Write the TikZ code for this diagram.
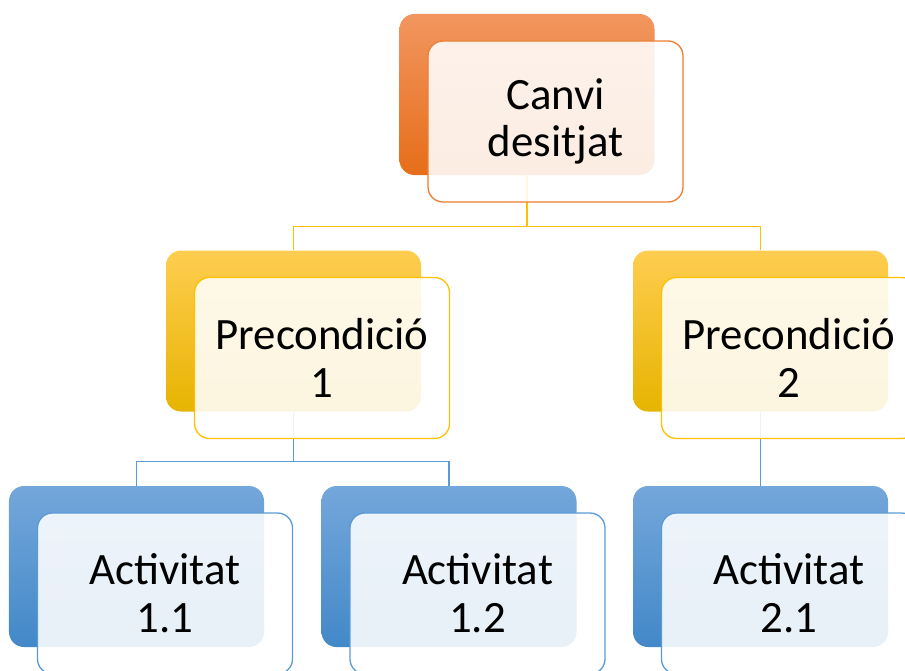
\documentclass[tikz,border=0pt]{standalone}
\usepackage{fontspec}
\setmainfont{Carlito}

\definecolor{orgtop}{RGB}{242,150,96}
\definecolor{orgmid}{RGB}{240,128,52}
\definecolor{orgbot}{RGB}{230,110,25}
\definecolor{orgline}{RGB}{237,125,49}
\definecolor{ylwtop}{RGB}{255,205,80}
\definecolor{ylwmid}{RGB}{255,194,10}
\definecolor{ylwbot}{RGB}{230,180,0}
\definecolor{ylwline}{RGB}{255,192,0}
\definecolor{blutop}{RGB}{116,167,219}
\definecolor{blumid}{RGB}{92,153,212}
\definecolor{blubot}{RGB}{66,136,200}
\definecolor{bluline}{RGB}{91,155,213}

\tikzset{
  backbox/.style={rounded corners=15bp, minimum width=255bp, minimum height=161bp, inner sep=0pt},
  frontbox/.style={rounded corners=15bp, minimum width=255bp, minimum height=161bp, inner sep=0pt,
    draw, line width=1.3bp, fill=white, fill opacity=0.88, text opacity=1, align=center,
    font=\fontsize{45}{48}\selectfont},
  orgback/.style={backbox, top color=orgtop, middle color=orgmid, bottom color=orgbot},
  ylwback/.style={backbox, top color=ylwtop, middle color=ylwmid, bottom color=ylwbot},
  bluback/.style={backbox, top color=blutop, middle color=blumid, bottom color=blubot},
  link/.style={line width=1.3bp},
  offset/.style={shift={(28.5,27)}}
}

\begin{document}
\begin{tikzpicture}[x=1bp, y=-1bp]
  \useasboundingbox (0,0) rectangle (905,671);
  \clip (0,0) rectangle (905,671);

  % back boxes
  \node[orgback] (cd) at (527,94.5) {};
  \node[ylwback] (p1) at (293.5,331) {};
  \node[ylwback] (p2) at (760.5,331) {};
  \node[bluback] (a1) at (136.5,566.5) {};
  \node[bluback] (a2) at (449,566.5) {};
  \node[bluback] (a3) at (760.5,566.5) {};

  % connectors
  \draw[link, ylwline] (cd.south) -- ++(0,51) -| (p1.north);
  \draw[link, ylwline] (cd.south) -- ++(0,51) -| (p2.north);
  \draw[link, bluline] (p1.south) -- ++(0,50) -| (a1.north);
  \draw[link, bluline] (p1.south) -- ++(0,50) -| (a2.north);
  \draw[link, bluline] (p2.south) -- (a3.north);

  % front boxes
  \node[frontbox, draw=orgline] (cdt) at ([offset]cd.center) {Canvi\\desitjat};
  \node[frontbox, draw=ylwline] (p1t) at ([offset]p1.center) {Precondició\\1};
  \node[frontbox, draw=ylwline] (p2t) at ([offset]p2.center) {Precondició\\2};
  \node[frontbox, draw=bluline] (a1t) at ([offset]a1.center) {Activitat\\1.1};
  \node[frontbox, draw=bluline] (a2t) at ([offset]a2.center) {Activitat\\1.2};
  \node[frontbox, draw=bluline] (a3t) at ([offset]a3.center) {Activitat\\2.1};
\end{tikzpicture}
\end{document}
